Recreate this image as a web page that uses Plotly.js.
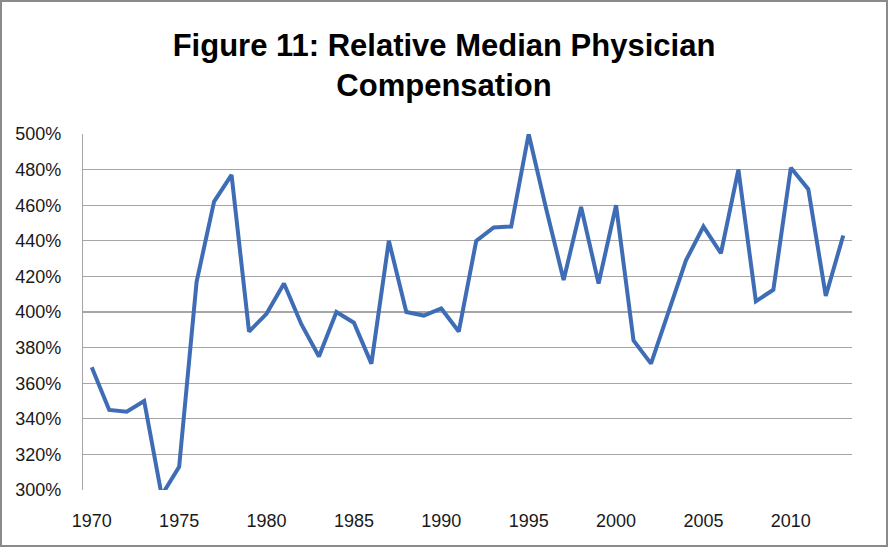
<!DOCTYPE html>
<html>
<head>
<meta charset="utf-8">
<script src="https://cdn.plot.ly/plotly-3.0.1.min.js"></script>
<style>
html,body{margin:0;padding:0;background:#fff;}
#wrap{position:relative;width:888px;height:547px;}
#chart{position:absolute;left:0;top:0;width:888px;height:547px;}
#frame{position:absolute;left:0;top:0;width:888px;height:547px;box-sizing:border-box;border:2px solid #8a8a8a;pointer-events:none;}
</style>
</head>
<body>
<div id="wrap"><div id="chart"></div><div id="frame"></div></div>
<script>
const years = [1970,1971,1972,1973,1974,1975,1976,1977,1978,1979,1980,1981,1982,1983,1984,1985,1986,1987,1988,1989,1990,1991,1992,1993,1994,1995,1996,1997,1998,1999,2000,2001,2002,2003,2004,2005,2006,2007,2008,2009,2010,2011,2012,2013];
const relComp = [3.69,3.45,3.44,3.50,2.97,3.13,4.17,4.62,4.77,3.89,3.99,4.16,3.93,3.75,4.00,3.94,3.71,4.40,4.00,3.98,4.02,3.89,4.40,4.475,4.48,5.00,4.58,4.18,4.59,4.16,4.60,3.84,3.71,4.00,4.29,4.48,4.33,4.80,4.06,4.125,4.81,4.69,4.09,4.43];
const yTicks = [3.0,3.2,3.4,3.6,3.8,4.0,4.2,4.4,4.6,4.8,5.0];
const xTicks = [1970,1975,1980,1985,1990,1995,2000,2005,2010];
const titleText = "<b>Figure 11: Relative Median Physician<br>Compensation</b>";

const trace = {
  x: years, y: relComp, type: 'scatter', mode: 'lines',
  line: {color: '#3E6DB5', width: 4},
  cliponaxis: true, hoverinfo: 'x+y'
};
const layout = {
  width: 888, height: 547,
  margin: {l: 83, r: 36, t: 134, b: 57},
  paper_bgcolor: '#ffffff', plot_bgcolor: '#ffffff',
  showlegend: false,
  title: {
    text: titleText,
    font: {family: 'Liberation Sans, Arial, sans-serif', size: 31, color: '#000'},
    x: 0.5, xanchor: 'center', y: 0.898, yanchor: 'top', yref: 'container'
  },
  xaxis: {
    range: [1969.5, 2013.5], tickvals: xTicks, ticktext: xTicks.map(String),
    showgrid: false, zeroline: false, showline: false,
    ticks: 'outside', ticklen: 14, tickcolor: 'rgba(0,0,0,0)',
    tickfont: {family: 'Liberation Sans, Arial, sans-serif', size: 18, color: '#1a1a1a'}
  },
  yaxis: {
    range: [3.0, 5.0], tickvals: yTicks, tickformat: '.0%',
    showgrid: true, gridcolor: '#a6a6a6', gridwidth: 1.2,
    zeroline: false, showline: true, linecolor: '#a6a6a6', linewidth: 1.2,
    ticks: 'outside', ticklen: 17, tickcolor: 'rgba(0,0,0,0)',
    tickfont: {family: 'Liberation Sans, Arial, sans-serif', size: 18, color: '#1a1a1a'}
  }
};
Plotly.newPlot('chart', [trace], layout, {displayModeBar: false, staticPlot: true});
</script>
</body>
</html>
